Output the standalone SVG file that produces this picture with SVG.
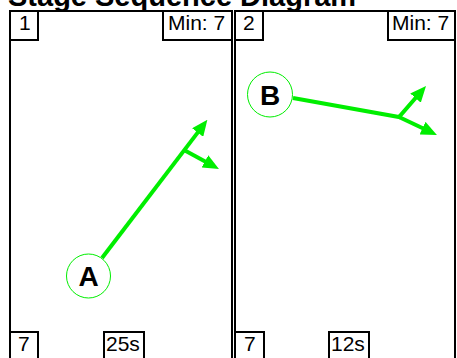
<svg xmlns="http://www.w3.org/2000/svg" width="457" height="358" viewBox="0 0 457 358">
<style>
.panel{fill:#fff;stroke:#000;stroke-width:2}
.box{fill:#fff;stroke:#000;stroke-width:2}
.lbl{font-family:"Liberation Sans",Arial,sans-serif;font-size:21px;fill:#000}
.title{font-family:"Liberation Sans",Arial,sans-serif;font-size:29px;font-weight:bold;fill:#000}
.node{fill:#fff;stroke:#00ee00;stroke-width:1}
.ntxt{font-family:"Liberation Sans",Arial,sans-serif;font-size:28px;font-weight:bold;fill:#000;text-anchor:middle}
.mv{fill:none;stroke:#00ee00;stroke-width:4;marker-end:url(#ah)}
</style>
<defs>
<marker id="ah" markerUnits="userSpaceOnUse" viewBox="0 0 16 14" refX="5" refY="7" markerWidth="16" markerHeight="14" orient="auto">
<path d="M0,0 L16,7 L0,14 z" fill="#00ee00"/>
</marker>
</defs>
<rect width="457" height="358" fill="#fff"/>
<text class="title" x="8" y="6">Stage Sequence Diagram</text>
<g id="panel1">
<rect class="panel" x="10" y="11" width="222" height="360"/>
<rect class="box" x="10" y="11" width="28" height="29"/>
<text class="lbl" x="19" y="30">1</text>
<rect class="box" x="163" y="11" width="69" height="29"/>
<text class="lbl" x="168" y="30">Min: 7</text>
<rect class="box" x="10" y="332" width="28" height="40"/>
<text class="lbl" x="18" y="351">7</text>
<rect class="box" x="104" y="332" width="40" height="40"/>
<text class="lbl" x="106" y="351">25s</text>
</g>
<g id="panel2">
<rect class="panel" x="235" y="11" width="220" height="360"/>
<rect class="box" x="235" y="11" width="28" height="29"/>
<text class="lbl" x="243" y="30">2</text>
<rect class="box" x="388" y="11" width="67" height="29"/>
<text class="lbl" x="392" y="30">Min: 7</text>
<rect class="box" x="235" y="332" width="29" height="40"/>
<text class="lbl" x="244" y="351">7</text>
<rect class="box" x="329" y="332" width="40" height="40"/>
<text class="lbl" x="331" y="351">12s</text>
</g>
<g id="connectors">
<path class="mv" d="M102,258 L200.7,128.6"/>
<path class="mv" d="M184,150 L209.3,163.8"/>
<path class="mv" d="M293,98 L399,117 L418.8,94.3"/>
<path class="mv" d="M399,117 L427,130.3"/>
</g>
<g id="nodeA">
<circle class="node" cx="88.5" cy="276" r="22"/>
<text class="ntxt" x="88.5" y="286">A</text>
</g>
<g id="nodeB">
<circle class="node" cx="270" cy="94.5" r="22.5"/>
<text class="ntxt" x="270" y="104.5">B</text>
</g>
</svg>
